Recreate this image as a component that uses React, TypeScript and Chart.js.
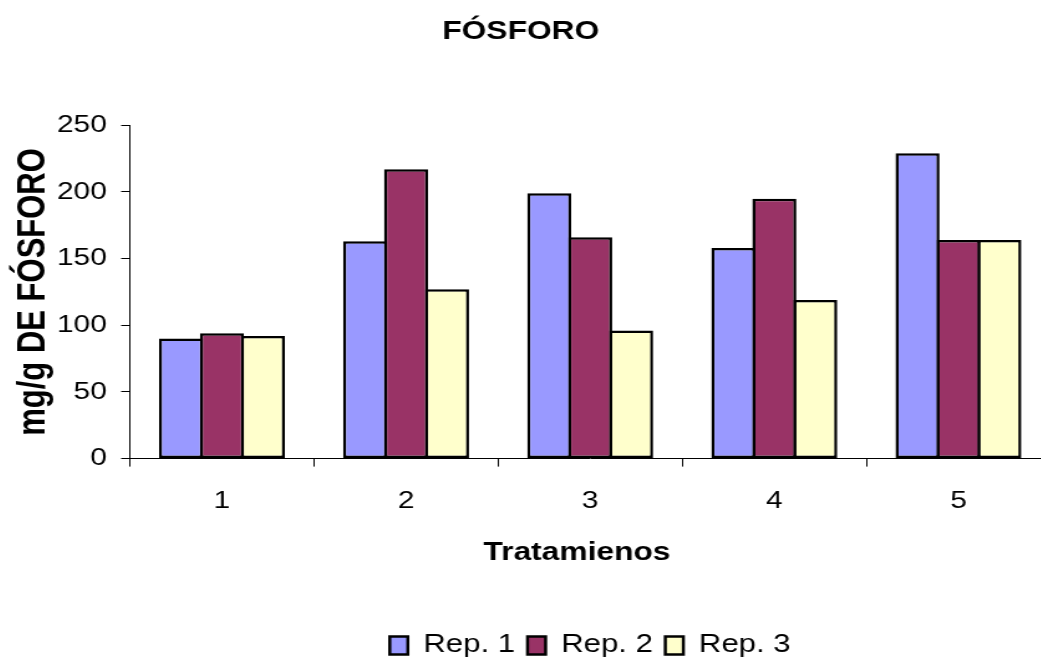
import { useEffect, useRef } from "react";
import { Chart, registerables } from "chart.js";

Chart.register(...registerables);

// Treatments on the x axis and the three replicates per treatment (mg/g)
const treatments = ["1", "2", "3", "4", "5"];
const rep1 = [90, 163, 199, 158, 229];
const rep2 = [94, 217, 166, 195, 164];
const rep3 = [92, 127, 96, 119, 164];
const seriesNames = ["Rep. 1", "Rep. 2", "Rep. 3"];
const seriesColors = ["#9999FF", "#993366", "#FFFFCC"];

// Value axis range
const yMin = 0;
const yMax = 250;
const yStep = 50;

const FONT = "'Liberation Sans', Arial, Helvetica, sans-serif";

// The chart is laid out in a narrower box and stretched horizontally
const STRETCH = 1.245;
const BASE_W = 851;
const BASE_H = 668;

// Bars are widened by one border width so neighbouring bars share an edge line
const BAR_BORDER = 2.5;
const BAR_PERCENT = 1.076;

export default function App() {
  const canvasRef = useRef<HTMLCanvasElement | null>(null);

  useEffect(() => {
    const canvas = canvasRef.current;
    if (!canvas) return;
    const values = [rep1, rep2, rep3];
    const chart = new Chart(canvas, {
      type: "bar",
      data: {
        labels: treatments,
        datasets: seriesNames.map((name, i) => ({
          label: name,
          data: values[i],
          backgroundColor: seriesColors[i],
          borderColor: "#000000",
          borderWidth: BAR_BORDER,
          borderSkipped: false,
          categoryPercentage: 0.667,
          barPercentage: BAR_PERCENT,
        })),
      },
      options: {
        responsive: false,
        animation: false,
        devicePixelRatio: 1,
        layout: { padding: 0 },
        plugins: {
          title: {
            display: true,
            text: "FÓSFORO",
            color: "#000000",
            font: { family: FONT, size: 25.5, weight: "bold" },
            padding: { top: 17, bottom: 77.7 },
          },
          legend: {
            position: "bottom",
            fullSize: false,
            labels: {
              color: "#000000",
              font: { family: FONT, size: 25 },
              boxWidth: 14.5,
              boxHeight: 18,
              padding: 10,
            },
          },
          tooltip: { enabled: false },
        },
        scales: {
          x: {
            grid: {
              display: true,
              drawOnChartArea: false,
              drawTicks: true,
              tickLength: 8,
              tickColor: "#000000",
              offset: true,
            },
            border: { display: true, color: "#000000", width: 1 },
            ticks: {
              color: "#000000",
              font: { family: FONT, size: 24 },
              padding: 20,
            },
            title: {
              display: true,
              text: "Tratamienos   ",
              color: "#000000",
              font: { family: FONT, size: 25.5, weight: "bold" },
              padding: { top: 2, bottom: 55 },
            },
          },
          y: {
            min: yMin,
            max: yMax,
            grid: {
              display: true,
              drawOnChartArea: false,
              drawTicks: true,
              tickLength: 7,
              tickColor: "#000000",
            },
            border: { display: true, color: "#000000", width: 1 },
            ticks: {
              stepSize: yStep,
              color: "#000000",
              font: { family: FONT, size: 24 },
              padding: 11.5,
            },
            title: {
              display: true,
              text: "mg/g DE FÓSFORO",
              color: "#000000",
              font: { family: FONT, size: 31, weight: "bold", lineHeight: 14 / 31 },
              padding: { top: 27.5, bottom: 0 },
            },
          },
        },
      },
    });
    return () => chart.destroy();
  }, []);

  return (
    <div
      style={{
        position: "fixed",
        left: 0,
        top: 0,
        width: 1041,
        height: 660,
        overflow: "hidden",
        background: "#ffffff",
      }}
    >
      <div
        style={{
          position: "absolute",
          left: 0,
          top: 0,
          width: BASE_W,
          height: BASE_H,
          transform: `translateX(-9px) scaleX(${STRETCH})`,
          transformOrigin: "0 0",
        }}
      >
        <canvas
          ref={canvasRef}
          width={BASE_W}
          height={BASE_H}
          style={{ width: BASE_W, height: BASE_H, display: "block" }}
        />
      </div>
    </div>
  );
}
